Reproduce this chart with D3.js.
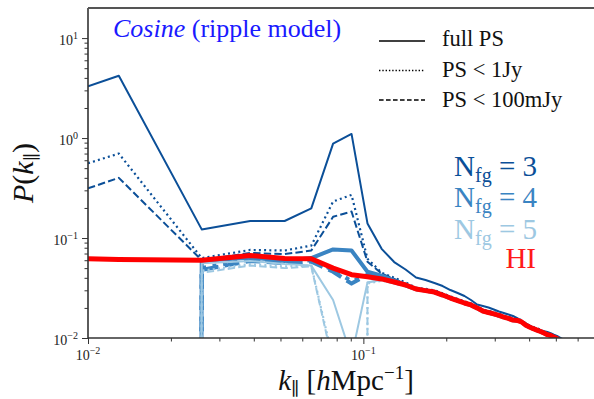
<!DOCTYPE html>
<html>
<head>
<meta charset="utf-8">
<script src="https://cdn.jsdelivr.net/npm/d3@7"></script>
<style>
  body { margin: 0; background: #fff; }
  svg { display: block; font-family: "Liberation Serif", "DejaVu Serif", serif; }
</style>
</head>
<body>
<svg id="chart" width="594" height="399"></svg>
<script>
// k_parallel bins [h/Mpc]; first entry is the left edge of the plot
var kPar = [0.01, 0.01294, 0.02588, 0.03882, 0.05176, 0.0647, 0.07764, 0.09058, 0.1035, 0.1165,
	0.1294, 0.1423, 0.1553, 0.1682, 0.1812, 0.1941, 0.207, 0.22, 0.2329, 0.2459,
	0.2588, 0.2717, 0.2847, 0.2976, 0.3106, 0.3235, 0.3364, 0.3494, 0.3623, 0.3753,
	0.3882, 0.4011, 0.4141, 0.427, 0.44, 0.4529, 0.4658, 0.4788, 0.4917, 0.5047,
	0.5176, 0.5305, 0.5435];

// HI signal
var hiSignal = [0.062, 0.061, 0.060, 0.067, 0.0625, 0.062, 0.050, 0.043, 0.041, 0.039,
	0.0363, 0.0339, 0.0309, 0.0298, 0.0288, 0.0269, 0.0251, 0.0237, 0.0224, 0.0214,
	0.0200, 0.0186, 0.0180, 0.0174, 0.0168, 0.0162, 0.0157, 0.0151, 0.0150, 0.0145,
	0.0135, 0.0129, 0.0124, 0.0120, 0.0116, 0.0112, 0.0108, 0.0106, 0.0102, 0.0099,
	0.0094, 0.0090, 0.0087];

// N_fg = 3  (0 = non-positive, clipped to the bottom like matplotlib does)
var fg3Full = [3.3, 4.2, 0.122, 0.148, 0.148, 0.198, 0.88, 1.10, 0.140, 0.078,
	0.0575, 0.0484, 0.0403, 0.038, 0.0355, 0.0331, 0.0302, 0.0282, 0.0263, 0.0240,
	0.0216, 0.0209, 0.0202, 0.0193, 0.0184, 0.0178, 0.0172, 0.0166, 0.0158, 0.0148,
	0.0141, 0.0133, 0.0127, 0.0123, 0.0120, 0.0117, 0.0115, 0.0112, 0.0108, 0.0105,
	0.0101, 0.0097, 0.0093];
var fg3Below1Jy = [0.56, 0.70, 0.063, 0.076, 0.075, 0.084, 0.232, 0.27, 0.062, 0.045,
	0.040, 0.036, 0.0318, 0.0310, 0.0300, 0.0280, 0.0261, 0.0246, 0.0233, 0.0222,
	0.0208, 0.0193, 0.0187, 0.0181, 0.0175, 0.0168, 0.0163, 0.0157, 0.0156, 0.0151,
	0.0140, 0.0134, 0.0129, 0.0125, 0.0121, 0.0116, 0.0112, 0.0110, 0.0106, 0.0103,
	0.0098, 0.0094, 0.0090];
var fg3Below100mJy = [0.314, 0.40, 0.060, 0.071, 0.069, 0.075, 0.163, 0.184, 0.058, 0.044,
	0.039, 0.035, 0.0315, 0.0304, 0.0294, 0.0274, 0.0256, 0.0242, 0.0228, 0.0218,
	0.0204, 0.0190, 0.0184, 0.0177, 0.0171, 0.0165, 0.0160, 0.0154, 0.0153, 0.0148,
	0.0138, 0.0132, 0.0126, 0.0122, 0.0118, 0.0114, 0.0110, 0.0108, 0.0104, 0.0101,
	0.0096, 0.0092, 0.0089];

// N_fg = 4
var fg4Full = [0, 0, 0.059, 0.064, 0.059, 0.063, 0.077, 0.075, 0.046, 0.042,
	0.0375, 0.034, 0.0309, 0.0298, 0.0288, 0.0269, 0.0251, 0.0237, 0.0224, 0.0214,
	0.0200, 0.0186, 0.0180, 0.0174, 0.0168, 0.0162, 0.0157, 0.0151, 0.0150, 0.0145,
	0.0135, 0.0129, 0.0124, 0.0120, 0.0116, 0.0112, 0.0108, 0.0106, 0.0102, 0.0099,
	0.0094, 0.0090, 0.0087];
var fg4Below1Jy = [0, 0, 0.050, 0.061, 0.058, 0.060, 0.048, 0.037, 0.042, 0.039,
	0.0362, 0.0338, 0.0309, 0.0298, 0.0288, 0.0269, 0.0251, 0.0237, 0.0224, 0.0214,
	0.0200, 0.0186, 0.0180, 0.0174, 0.0168, 0.0162, 0.0157, 0.0151, 0.0150, 0.0145,
	0.0135, 0.0129, 0.0124, 0.0120, 0.0116, 0.0112, 0.0108, 0.0106, 0.0102, 0.0099,
	0.0094, 0.0090, 0.0087];
var fg4Below100mJy = [0, 0, 0.048, 0.059, 0.056, 0.058, 0.046, 0.035, 0.043, 0.039,
	0.036, 0.0336, 0.0309, 0.0298, 0.0288, 0.0269, 0.0251, 0.0237, 0.0224, 0.0214,
	0.0200, 0.0186, 0.0180, 0.0174, 0.0168, 0.0162, 0.0157, 0.0151, 0.0150, 0.0145,
	0.0135, 0.0129, 0.0124, 0.0120, 0.0116, 0.0112, 0.0108, 0.0106, 0.0102, 0.0099,
	0.0094, 0.0090, 0.0087];

// N_fg = 5
var fg5Full = [0, 0, 0.056, 0.059, 0.055, 0.053, 0.024, 0.0065, 0.036, 0.038,
	0.0355, 0.0332, 0.0301, 0.0291, 0.0281, 0.0262, 0.0245, 0.0231, 0.0218, 0.0209,
	0.0195, 0.0181, 0.0176, 0.0170, 0.0164, 0.0158, 0.0153, 0.0147, 0.0146, 0.0141,
	0.0132, 0.0126, 0.0121, 0.0117, 0.0113, 0.0109, 0.0105, 0.0103, 0.0099, 0.0097,
	0.0092, 0.0088, 0.0085];
var fg5Below1Jy = [0, 0, 0.047, 0.055, 0.052, 0.053, 0.006, 0, 0.035, 0.0375,
	0.0352, 0.033, 0.0301, 0.0291, 0.0281, 0.0262, 0.0245, 0.0231, 0.0218, 0.0209,
	0.0195, 0.0181, 0.0176, 0.0170, 0.0164, 0.0158, 0.0153, 0.0147, 0.0146, 0.0141,
	0.0132, 0.0126, 0.0121, 0.0117, 0.0113, 0.0109, 0.0105, 0.0103, 0.0099, 0.0097,
	0.0092, 0.0088, 0.0085];
var fg5Below100mJy = [0, 0, 0.045, 0.053, 0.050, 0.052, 0.0055, 0, 0.036, 0.038,
	0.0355, 0.0332, 0.0301, 0.0291, 0.0281, 0.0262, 0.0245, 0.0231, 0.0218, 0.0209,
	0.0195, 0.0181, 0.0176, 0.0170, 0.0164, 0.0158, 0.0153, 0.0147, 0.0146, 0.0141,
	0.0132, 0.0126, 0.0121, 0.0117, 0.0113, 0.0109, 0.0105, 0.0103, 0.0099, 0.0097,
	0.0092, 0.0088, 0.0085];

var xMajorTicks = [0.01, 0.1];
var xTickExponents = ["\u22122", "\u22121"];
var yMajorTicks = [0.01, 0.1, 1, 10];
var yTickExponents = ["\u22122", "\u22121", "0", "1"];
var legendLabels = ["full PS", "PS < 1Jy", "PS < 100mJy"];
var nfgValues = ["3", "4", "5"];

(function() {
	var DARK = "#0b4f98", MID = "#3a84c2", LIGHT = "#9dc8e2", RED = "#ff0000";
	var LEFT = 88, RIGHT = 604, TOP = 8, BOTTOM = 338;

	var svg = d3.select("#chart");

	var x = d3.scaleLog().domain([0.01, 0.748]).range([LEFT, RIGHT]);
	var y = d3.scaleLog().domain([0.01, 20]).range([BOTTOM, TOP]);

	function minorTicks(scale) {
		var d = scale.domain(), out = [];
		for (var e = Math.floor(Math.log10(d[0])); e <= Math.ceil(Math.log10(d[1])); e++) {
			for (var m = 2; m < 10; m++) {
				var v = m * Math.pow(10, e);
				if (v > d[0] && v < d[1]) out.push(v);
			}
		}
		return out;
	}

	svg.append("defs").append("clipPath").attr("id", "plot-clip")
		.append("rect")
		.attr("x", LEFT).attr("y", TOP)
		.attr("width", RIGHT - LEFT).attr("height", BOTTOM - TOP);

	// ticks (outward, matplotlib style)
	function tickAxis(axis, values, size, transform) {
		var g = svg.append("g")
			.attr("transform", transform)
			.call(axis.tickValues(values).tickSize(size).tickFormat(""));
		g.select(".domain").remove();
		g.selectAll(".tick line").attr("stroke", "#333").attr("stroke-width", 1);
		return g;
	}
	tickAxis(d3.axisBottom(x), minorTicks(x), 3.5, "translate(0," + BOTTOM + ")");
	tickAxis(d3.axisBottom(x), xMajorTicks, 6, "translate(0," + BOTTOM + ")");
	tickAxis(d3.axisLeft(y), minorTicks(y), 3.5, "translate(" + LEFT + ",0)");
	tickAxis(d3.axisLeft(y), yMajorTicks, 6, "translate(" + LEFT + ",0)");

	// tick labels 10^n
	xMajorTicks.forEach(function(v, i) {
		var t = svg.append("text")
			.attr("x", x(v)).attr("y", 360)
			.attr("text-anchor", "middle")
			.attr("font-size", 14).attr("fill", "#222");
		t.append("tspan").text("10");
		t.append("tspan").attr("dy", -6).attr("font-size", 10).text(xTickExponents[i]);
	});
	yMajorTicks.forEach(function(v, i) {
		var t = svg.append("text")
			.attr("x", 78).attr("y", y(v) + 6.5)
			.attr("text-anchor", "end")
			.attr("font-size", 14).attr("fill", "#222");
		t.append("tspan").text("10");
		t.append("tspan").attr("dy", -6).attr("font-size", 10).text(yTickExponents[i]);
	});

	// data lines
	var line = d3.line()
		.x(function(d) { return x(d[0]); })
		.y(function(d) { return d[1] > 0 ? y(d[1]) : y(1e-300); });

	var series = [
		{ values: fg3Full, color: DARK, width: 2, dash: null },
		{ values: fg3Below1Jy, color: DARK, width: 2.2, dash: "2,3.2" },
		{ values: fg3Below100mJy, color: DARK, width: 2, dash: "7.4,3.2" },
		{ values: fg4Full, color: MID, width: 4, dash: null },
		{ values: fg4Below1Jy, color: MID, width: 4, dash: "4,6.6" },
		{ values: fg4Below100mJy, color: MID, width: 4, dash: "14.8,6.4" },
		{ values: fg5Full, color: LIGHT, width: 2, dash: null },
		{ values: fg5Below1Jy, color: LIGHT, width: 2.2, dash: "2,3.2" },
		{ values: fg5Below100mJy, color: LIGHT, width: 2, dash: "7.4,3.2" },
		{ values: hiSignal, color: RED, width: 5, dash: null }
	];

	var plot = svg.append("g").attr("clip-path", "url(#plot-clip)");
	series.forEach(function(s) {
		plot.append("path")
			.datum(d3.zip(kPar, s.values))
			.attr("d", line)
			.attr("fill", "none")
			.attr("stroke", s.color)
			.attr("stroke-width", s.width)
			.attr("stroke-linejoin", "round")
			.attr("stroke-dasharray", s.dash);
	});

	// spines
	var spine = svg.append("g").attr("stroke", "#333").attr("stroke-width", 1.6);
	spine.append("line").attr("x1", LEFT).attr("x2", LEFT).attr("y1", TOP).attr("y2", BOTTOM);
	spine.append("line").attr("x1", LEFT).attr("x2", RIGHT).attr("y1", BOTTOM).attr("y2", BOTTOM);
	spine.append("line").attr("x1", LEFT).attr("x2", RIGHT).attr("y1", TOP).attr("y2", TOP)
		.attr("stroke", "#555").attr("stroke-width", 2.2);

	// title
	var title = svg.append("text")
		.attr("x", 113).attr("y", 37)
		.attr("font-size", 26).attr("fill", "#1a1aff");
	title.append("tspan").attr("font-style", "italic").text("Cosine");
	title.append("tspan").text(" (ripple model)");

	// line style legend
	var legendDash = [null, "1.4,1.9", "4.6,2.4"];
	var legendLineY = [41, 70.5, 100];
	var legendTextY = [46, 77, 107];
	legendLabels.forEach(function(label, i) {
		svg.append("line")
			.attr("x1", 379).attr("x2", 425)
			.attr("y1", legendLineY[i]).attr("y2", legendLineY[i])
			.attr("stroke", "#000").attr("stroke-width", 1.4)
			.attr("stroke-dasharray", legendDash[i]);
		svg.append("text")
			.attr("x", 442).attr("y", legendTextY[i])
			.attr("font-size", 22.5).attr("fill", "#111")
			.text(label);
	});

	// N_fg labels
	var nfgColors = [DARK, MID, LIGHT];
	var nfgY = [175.5, 207, 238.5];
	nfgValues.forEach(function(n, i) {
		var t = svg.append("text")
			.attr("x", 537).attr("y", nfgY[i])
			.attr("text-anchor", "end")
			.attr("font-size", 29).attr("fill", nfgColors[i]);
		t.append("tspan").text("N");
		t.append("tspan").attr("dy", 6).attr("font-size", 20).text("fg");
		t.append("tspan").attr("dy", -6).text(" = " + n);
	});
	svg.append("text")
		.attr("x", 536).attr("y", 268)
		.attr("text-anchor", "end")
		.attr("font-size", 29).attr("fill", "#ff1a1a")
		.text("HI");

	// axis labels
	var xl = svg.append("text")
		.attr("x", (LEFT + RIGHT) / 2).attr("y", 390)
		.attr("text-anchor", "middle")
		.attr("font-size", 29).attr("fill", "#111");
	xl.append("tspan").attr("font-style", "italic").text("k");
	xl.append("tspan").attr("dy", 5).attr("font-size", 18).text("\u2225");
	xl.append("tspan").attr("dy", -5).text(" [");
	xl.append("tspan").attr("font-style", "italic").text("h");
	xl.append("tspan").text("Mpc");
	xl.append("tspan").attr("dy", -11).attr("font-size", 19).text("\u22121");
	xl.append("tspan").attr("dy", 11).text("]");

	var yl = svg.append("text")
		.attr("transform", "translate(33," + ((TOP + BOTTOM) / 2) + ") rotate(-90)")
		.attr("text-anchor", "middle")
		.attr("font-size", 30).attr("fill", "#111");
	yl.append("tspan").attr("font-style", "italic").text("P");
	yl.append("tspan").text("(");
	yl.append("tspan").attr("font-style", "italic").text("k");
	yl.append("tspan").attr("dy", 5).attr("font-size", 18).text("\u2225");
	yl.append("tspan").attr("dy", -5).text(")");
}());
</script>
</body>
</html>
